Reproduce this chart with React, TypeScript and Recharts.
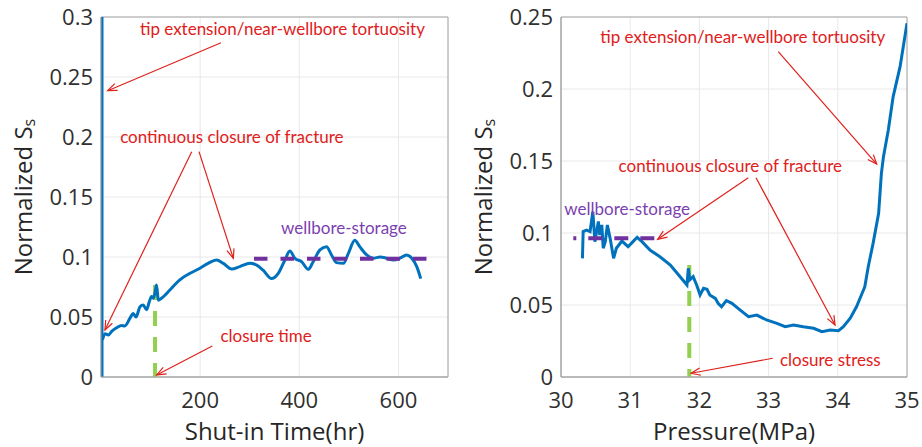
import React from 'react';
import {
  LineChart,
  Line,
  XAxis,
  YAxis,
  CartesianGrid,
  ReferenceLine,
  ReferenceDot,
  ReferenceArea,
  Label,
} from 'recharts';

// ---------- Left panel: Normalized Ss vs shut-in time ----------
const shutInTime = [
  3, 8, 15, 21.5, 31.6, 41.7, 48, 58.5, 65, 70.6, 78.7, 85, 92, 97.5, 102, 105.6, 110, 112, 115.7, 122,
  139, 159, 179.6, 199.7, 216, 233, 246.7, 263.6, 280, 300.5, 314, 327, 344, 357.6, 371, 381, 391, 405,
  418, 428, 441.7, 455, 465, 475, 489, 499, 512, 522, 536, 549, 563, 576, 590, 603, 616.6, 627, 637, 645,
];
const shutInSs = [
  0.031, 0.036, 0.035, 0.038, 0.041, 0.043, 0.0425, 0.049, 0.053, 0.05, 0.0586, 0.06, 0.056, 0.0628, 0.067,
  0.0656, 0.0725, 0.0767, 0.064, 0.0656, 0.0725, 0.081, 0.0864, 0.0906, 0.0947, 0.0975, 0.0947, 0.09, 0.092,
  0.0947, 0.0933, 0.089, 0.082, 0.0864, 0.0975, 0.105, 0.099, 0.096, 0.0897, 0.096, 0.106, 0.1086, 0.1017,
  0.0953, 0.0947, 0.103, 0.114, 0.1086, 0.1017, 0.099, 0.1, 0.099, 0.0975, 0.099, 0.1017, 0.099, 0.092, 0.082,
];
const spikeTime = [2, 2];
const spikeSs = [0.3, 0];

const leftXTicks = [200, 400, 600];
const leftYTicks = [0, 0.05, 0.1, 0.15, 0.2, 0.25, 0.3];

// annotations (data coordinates)
const leftNotes = [
  { text: 'tip extension/near-wellbore tortuosity', x: 366, y: 0.2904, color: '#E0201B' },
  { text: 'continuous closure of fracture', x: 264, y: 0.2008, color: '#E0201B' },
  { text: 'wellbore-storage', x: 490, y: 0.1244, color: '#7B3FB0' },
  { text: 'closure time', x: 333, y: 0.0342, color: '#E0201B' },
];
const leftArrows = [
  { x1: 242, y1: 0.2786, x2: 13.5, y2: 0.2386 },
  { x1: 183, y1: 0.1878, x2: 8, y2: 0.0392 },
  { x1: 197.7, y1: 0.1878, x2: 266.9, y2: 0.0989 },
  { x1: 224.5, y1: 0.0258, x2: 112.3, y2: 0.0017 },
];
const leftStorage = { x1: 308.6, x2: 660, y: 0.0986 };
const leftClosure = { x: 109, y1: 0.0767, y2: 0 };

// ---------- Right panel: Normalized Ss vs pressure ----------
const pressure = [
  30.31, 30.32, 30.37, 30.42, 30.46, 30.49, 30.54, 30.56, 30.59, 30.61, 30.64, 30.67, 30.71, 30.76, 30.8,
  30.88, 30.97, 31.04, 31.1, 31.17, 31.29, 31.43, 31.58, 31.7, 31.82, 31.84, 31.86, 31.91, 31.96, 32.01,
  32.06, 32.11, 32.15, 32.23, 32.27, 32.32, 32.39, 32.47, 32.59, 32.71, 32.83, 32.97, 33.12, 33.24, 33.36,
  33.5, 33.65, 33.77, 33.89, 34.01, 34.08, 34.18, 34.27, 34.35, 34.39, 34.44, 34.51, 34.59, 34.63, 34.66,
  34.73, 34.8, 34.9, 35.0,
];
const pressureSs = [
  0.0824, 0.101, 0.102, 0.101, 0.1148, 0.094, 0.108, 0.0986, 0.1056, 0.0894, 0.094, 0.1056, 0.0963, 0.0824,
  0.0894, 0.0944, 0.0905, 0.094, 0.097, 0.094, 0.088, 0.0835, 0.0778, 0.0708, 0.0639, 0.0755, 0.0674, 0.0697,
  0.0639, 0.057, 0.0616, 0.0609, 0.057, 0.0546, 0.0512, 0.0488, 0.053, 0.0512, 0.0465, 0.0419, 0.043, 0.0396,
  0.0373, 0.0349, 0.0361, 0.0349, 0.0338, 0.0315, 0.0326, 0.0322, 0.0349, 0.0408, 0.0488, 0.058, 0.0627,
  0.0766, 0.0928, 0.1137, 0.1414, 0.153, 0.1715, 0.1947, 0.2155, 0.2456,
];

const rightXTicks = [30, 31, 32, 33, 34, 35];
const rightYTicks = [0, 0.05, 0.1, 0.15, 0.2, 0.25];

const rightNotes = [
  { text: 'tip extension/near-wellbore tortuosity', x: 32.626, y: 0.2363, color: '#E0201B' },
  { text: 'continuous closure of fracture', x: 32.447, y: 0.1467, color: '#E0201B' },
  { text: 'wellbore-storage', x: 30.957, y: 0.1167, color: '#7B3FB0' },
  { text: 'closure stress', x: 33.892, y: 0.0125, color: '#E0201B' },
];
const rightArrows = [
  { x1: 33.14, y1: 0.2259, x2: 34.562, y2: 0.1479 },
  { x1: 32.707, y1: 0.1384, x2: 31.397, y2: 0.0956 },
  { x1: 32.818, y1: 0.1384, x2: 33.96, y2: 0.0361 },
  { x1: 33.06, y1: 0.013, x2: 31.88, y2: 0.0026 },
];
const rightStorage = { x1: 30.178, x2: 31.38, y: 0.0963 };
const rightClosure = { x: 31.854, y1: 0.0778, y2: 0 };

// ---------- styling ----------
const BLUE = '#0072BD';
const RED = '#E0201B';
const PURPLE = '#7030A0';
const GREEN = '#92D050';
const AXIS = '#a6a6a6';
const GRID = '#e8e8e8';
const TICK_FONT = { fontFamily: '"Open Sans", sans-serif', fontSize: 22, fill: '#303030' };
const NOTE_FONT = 'Lato, "Open Sans", sans-serif';

const ArrowShape = (p: any) => {
  const { x1, y1, x2, y2 } = p;
  const a = Math.atan2(y2 - y1, x2 - x1);
  const L = 10;
  const w = 0.38;
  const ax = x2 - L * Math.cos(a - w);
  const ay = y2 - L * Math.sin(a - w);
  const bx = x2 - L * Math.cos(a + w);
  const by = y2 - L * Math.sin(a + w);
  return (
    <g>
      <line x1={x1} y1={y1} x2={x2} y2={y2} stroke={RED} strokeWidth={1.2} />
      <polyline points={`${ax},${ay} ${x2},${y2} ${bx},${by}`} fill="none" stroke={RED} strokeWidth={1.2} />
    </g>
  );
};

const noteShape = (text: string, color: string) => (p: any) => (
  <text
    x={p.cx}
    y={p.cy}
    textAnchor="middle"
    dominantBaseline="central"
    fontFamily={NOTE_FONT}
    fontSize={17}
    fill={color}
  >
    {text}
  </text>
);

const YLabel = (props: any) => {
  const vb = props.viewBox || {};
  const cx = (vb.x || 0) + 22;
  const cy = (vb.y || 0) + (vb.height || 0) / 2;
  return (
    <text
      transform={`translate(${cx},${cy}) rotate(-90)`}
      textAnchor="middle"
      dominantBaseline="central"
      fontFamily='"Open Sans", sans-serif'
      fontSize={24}
      fill="#262626"
    >
      Normalized S
      <tspan dy={7} fontSize={16}>s</tspan>
    </text>
  );
};

const makeXLabel = (text: string) => (props: any) => {
  const vb = props.viewBox || {};
  return (
    <text
      x={(vb.x || 0) + (vb.width || 0) / 2}
      y={(vb.y || 0) + 53}
      textAnchor="middle"
      dominantBaseline="central"
      fontFamily='"Open Sans", sans-serif'
      fontSize={24}
      fill="#262626"
    >
      {text}
    </text>
  );
};

type PanelProps = {
  width: number;
  marginRight: number;
  xDomain: [number, number];
  yDomain: [number, number];
  xTicks: number[];
  yTicks: number[];
  xLabel: string;
  series: { x: number[]; y: number[]; type: 'linear' | 'monotone' }[];
  notes: { text: string; x: number; y: number; color: string }[];
  arrows: { x1: number; y1: number; x2: number; y2: number }[];
  storage: { x1: number; x2: number; y: number };
  storageDash: string;
  storageOffset: number;
  closure: { x: number; y1: number; y2: number };
};

const Panel = (pp: PanelProps) => (
  <LineChart
    width={pp.width}
    height={447}
    margin={{ top: 17, right: pp.marginRight, bottom: 0, left: 0 }}
  >
    <CartesianGrid stroke={GRID} strokeWidth={1} />
    <XAxis
      dataKey="x"
      type="number"
      domain={pp.xDomain}
      ticks={pp.xTicks}
      allowDataOverflow
      height={70}
      tickSize={0}
      tickMargin={15}
      tick={TICK_FONT}
      axisLine={{ stroke: AXIS }}
      tickLine={false}
    >
      <Label content={makeXLabel(pp.xLabel)} />
    </XAxis>
    <YAxis
      type="number"
      domain={pp.yDomain}
      ticks={pp.yTicks}
      allowDataOverflow
      width={101}
      tickSize={0}
      tickMargin={8}
      tick={TICK_FONT}
      axisLine={{ stroke: AXIS }}
      tickLine={false}
    >
      <Label content={YLabel} />
    </YAxis>
    <ReferenceArea
      x1={pp.xDomain[0]}
      x2={pp.xDomain[1]}
      y1={pp.yDomain[0]}
      y2={pp.yDomain[1]}
      fill="none"
      fillOpacity={0}
      stroke={AXIS}
      strokeWidth={1}
    />
    <ReferenceLine
      segment={[
        { x: pp.closure.x, y: pp.closure.y1 },
        { x: pp.closure.x, y: pp.closure.y2 },
      ]}
      stroke={GREEN}
      strokeWidth={4}
      strokeDasharray="15 11"
    />
    {pp.series.map((s, i) => (
      <Line
        key={i}
        data={s.x.map((x, j) => ({ x, v: s.y[j] }))}
        dataKey="v"
        type={s.type}
        stroke={BLUE}
        strokeWidth={3}
        dot={false}
        activeDot={false}
        isAnimationActive={false}
      />
    ))}
    <ReferenceLine
      segment={[
        { x: pp.storage.x1, y: pp.storage.y },
        { x: pp.storage.x2, y: pp.storage.y },
      ]}
      stroke={PURPLE}
      strokeWidth={4}
      strokeDasharray={pp.storageDash}
      strokeDashoffset={pp.storageOffset}
    />
    {pp.arrows.map((a, i) => (
      <ReferenceLine
        key={'a' + i}
        segment={[
          { x: a.x1, y: a.y1 },
          { x: a.x2, y: a.y2 },
        ]}
        ifOverflow="visible"
        shape={ArrowShape}
      />
    ))}
    {pp.notes.map((n, i) => (
      <ReferenceDot key={'n' + i} x={n.x} y={n.y} r={0} ifOverflow="visible" shape={noteShape(n.text, n.color)} />
    ))}
  </LineChart>
);

export default function App() {
  return (
    <div style={{ position: 'absolute', left: 0, top: 0, width: 922, height: 447, background: '#fff' }}>
      <div style={{ position: 'absolute', left: 0, top: 0 }}>
        <Panel
          width={460}
          marginRight={12}
          xDomain={[0, 700]}
          yDomain={[0, 0.3]}
          xTicks={leftXTicks}
          yTicks={leftYTicks}
          xLabel="Shut-in Time(hr)"
          series={[
            { x: spikeTime, y: spikeSs, type: 'linear' },
            { x: shutInTime, y: shutInSs, type: 'monotone' },
          ]}
          notes={leftNotes}
          arrows={leftArrows}
          storage={leftStorage}
          storageDash="13.5 13"
          storageOffset={0}
          closure={leftClosure}
        />
      </div>
      <div style={{ position: 'absolute', left: 460, top: 0 }}>
        <Panel
          width={462}
          marginRight={15}
          xDomain={[30, 35]}
          yDomain={[0, 0.25]}
          xTicks={rightXTicks}
          yTicks={rightYTicks}
          xLabel="Pressure(MPa)"
          series={[{ x: pressure, y: pressureSs, type: 'linear' }]}
          notes={rightNotes}
          arrows={rightArrows}
          storage={rightStorage}
          storageDash="14 12"
          storageOffset={11}
          closure={rightClosure}
        />
      </div>
    </div>
  );
}
